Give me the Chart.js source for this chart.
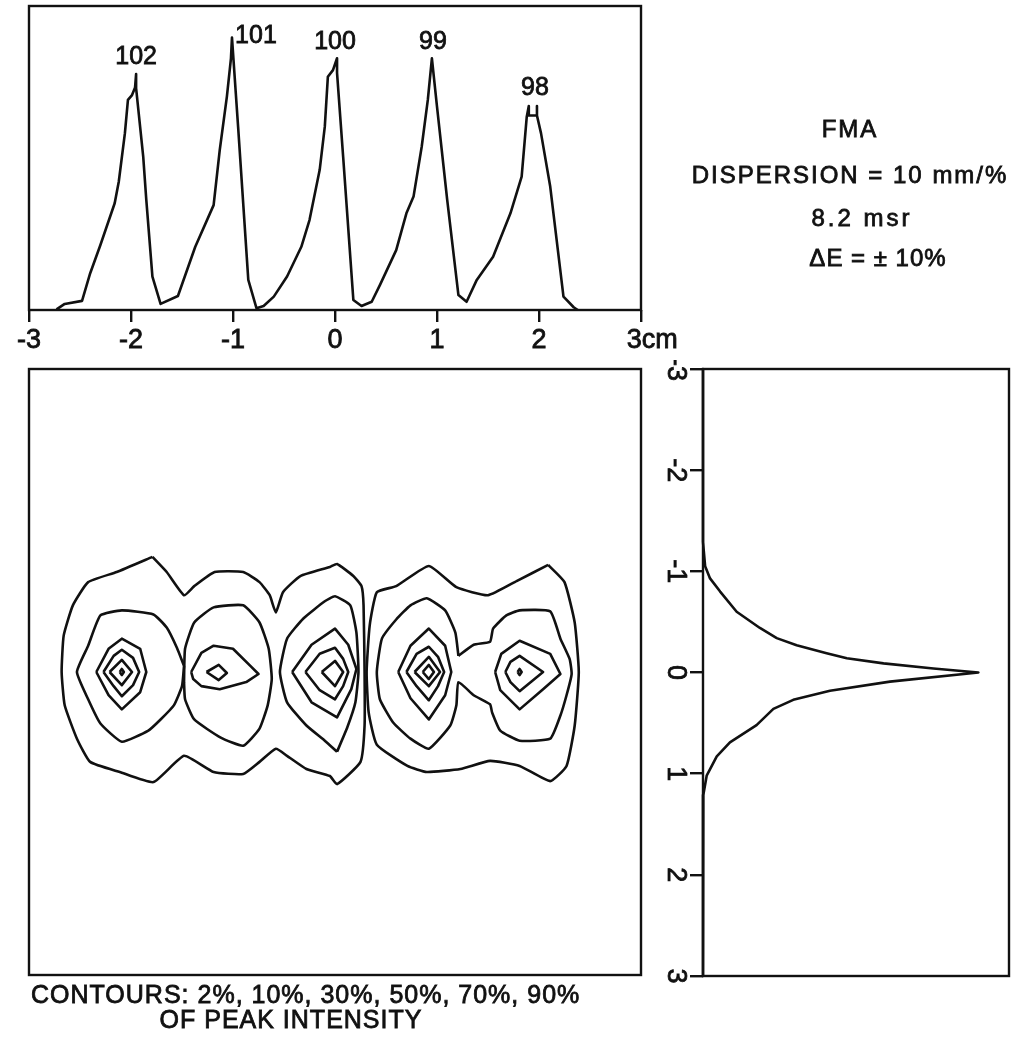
<!DOCTYPE html>
<html lang="en">
<head>
<meta charset="UTF-8">
<title>FMA dispersion contours</title>
<script src="https://cdn.jsdelivr.net/npm/chart.js"></script>
<style>
  body { margin: 0; background: #fff; }
  .wrap { position: relative; width: 1032px; height: 1046px; }
  canvas { position: absolute; }
  #top { left: 0; top: 0; }
  #contour { left: 0; top: 360px; }
  #side { left: 660px; top: 360px; }
</style>
</head>
<body>
<div class="wrap">
  <canvas id="top" width="1032" height="360"></canvas>
  <canvas id="contour" width="660" height="686"></canvas>
  <canvas id="side" width="372" height="640"></canvas>
</div>
<script>
// top profile: position (cm) vs intensity (% of box height)
const topX = [-2.73,-2.65,-2.48,-2.40,-2.30,-2.16,-2.12,-2.06,-2.03,-1.99,-1.96,-1.95,-1.95,-1.88,-1.85,-1.79,-1.71,-1.54,-1.37,-1.19,-1.13,-1.06,-1.02,-1.01,-0.95,-0.85,-0.77,-0.70,-0.60,-0.47,-0.33,-0.25,-0.15,-0.10,-0.07,-0.02,0.02,0.02,0.08,0.18,0.26,0.36,0.44,0.60,0.70,0.77,0.85,0.91,0.95,1.00,1.10,1.21,1.29,1.39,1.55,1.72,1.83,1.88,1.90,1.90,1.98,1.98,1.98,2.02,2.11,2.24,2.34,2.38];
const topI = [0.2,2.0,3.0,12.1,21.4,35.1,42.2,58.1,69.1,70.7,73.2,77.6,73.0,50.4,36.2,11.0,2.0,4.6,20.8,34.5,52.6,70.2,82.8,89.6,60.3,9.9,0.6,1.3,4.4,11.0,20.8,29.6,46.1,60.3,76.7,78.9,82.8,78.0,50.4,3.3,1.3,2.7,8.2,19.7,31.8,37.3,53.7,69.1,82.8,66.9,36.2,4.9,2.7,9.9,17.5,31.8,43.9,63.6,67.1,64.0,64.0,67.1,64.0,58.1,40.6,4.4,0.9,0];
const xTicks = [-3, -2, -1, 0, 1, 2, 3];

const peakNames = ['102', '101', '100', '99', '98'];
const peakCm = [-1.95, -1.01, 0.02, 0.95, 1.94];

// side profile: intensity vs vertical position (cm)
const sideY = [-3,-1.29,-1.05,-0.93,-0.80,-0.60,-0.44,-0.34,-0.27,-0.19,-0.14,-0.09,-0.04,0.00,0.09,0.18,0.27,0.36,0.52,0.69,0.83,1.02,1.21,3];
const sideI = [0,0,0.7,2.3,5.6,11.0,18.6,24.1,30.6,40.4,47.0,59.0,75.3,90.0,61.1,41.5,29.5,23.0,17.5,8.8,4.5,1.2,0.1,0];
const yTicks = [-3, -2, -1, 0, 1, 2, 3];

// contours [x cm, y cm]; 2% and 10% levels first
const c2A = [[-1.79,-1.14],[-1.65,-0.99],[-1.48,-0.76],[-1.38,-0.85],[-1.18,-0.99],[-0.90,-0.99],[-0.74,-0.89],[-0.64,-0.76],[-0.58,-0.59],[-0.51,-0.79],[-0.34,-0.95],[-0.05,-1.04],[0.02,-1.07],[0.18,-0.95],[0.26,-0.85],[0.28,-0.66],[0.29,0],[0.29,0.53],[0.25,0.89],[0.02,1.11],[-0.05,1.03],[-0.28,0.96],[-0.47,0.83],[-0.58,0.76],[-0.74,0.89],[-0.90,1.01],[-1.19,0.99],[-1.48,0.83],[-1.78,1.09],[-2.11,0.99],[-2.40,0.89],[-2.53,0.66],[-2.65,0.33],[-2.68,0],[-2.66,-0.36],[-2.57,-0.66],[-2.42,-0.89],[-2.14,-0.99]];
const c2B = [[2.09,-1.06],[2.25,-0.89],[2.35,-0.49],[2.39,0],[2.35,0.53],[2.27,0.93],[2.11,1.08],[1.81,0.93],[1.52,0.88],[1.23,0.96],[0.90,0.99],[0.71,0.93],[0.41,0.72],[0.33,0.40],[0.31,0],[0.34,-0.46],[0.41,-0.79],[0.60,-0.85],[0.92,-1.05],[1.19,-0.84],[1.50,-0.76],[1.78,-0.90]];
const c10_102 = [[-1.48,-0.06],[-1.50,0.14],[-1.58,0.33],[-1.71,0.47],[-1.83,0.58],[-2.09,0.69],[-2.30,0.51],[-2.42,0.27],[-2.53,0],[-2.42,-0.26],[-2.30,-0.56],[-2.09,-0.61],[-1.78,-0.57],[-1.65,-0.44],[-1.55,-0.24]];
const c10_101 = [[-1.48,0.10],[-1.47,-0.23],[-1.38,-0.49],[-1.19,-0.64],[-0.90,-0.66],[-0.74,-0.49],[-0.65,-0.23],[-0.62,0.07],[-0.66,0.33],[-0.74,0.56],[-0.90,0.73],[-1.12,0.65],[-1.38,0.47],[-1.47,0.27]];
const c10_100 = [[0.02,0.79],[-0.10,0.68],[-0.28,0.53],[-0.47,0.30],[-0.54,0],[-0.47,-0.33],[-0.31,-0.53],[-0.10,-0.70],[0.0,-0.75],[0.15,-0.66],[0.21,-0.39],[0.23,0],[0.20,0.30],[0.12,0.55]];
const c10_99_98 = [[1.21,-0.16],[1.36,-0.27],[1.52,-0.30],[1.55,-0.43],[1.68,-0.56],[1.81,-0.61],[2.11,-0.60],[2.21,-0.33],[2.30,-0.13],[2.32,0.02],[2.27,0.23],[2.21,0.43],[2.11,0.66],[1.81,0.68],[1.62,0.58],[1.54,0.40],[1.52,0.32],[1.36,0.23],[1.21,0.10],[1.19,0.33],[1.13,0.53],[0.92,0.76],[0.74,0.66],[0.57,0.50],[0.44,0.27],[0.41,0],[0.46,-0.33],[0.60,-0.52],[0.74,-0.66],[0.90,-0.73],[1.08,-0.61],[1.18,-0.39]];
const c30_102 = [[-2.34,0],[-2.22,-0.23],[-2.09,-0.33],[-1.91,-0.23],[-1.85,0],[-1.91,0.20],[-2.09,0.37],[-2.22,0.23]];
const c50_102 = [[-2.27,0],[-2.17,-0.16],[-2.09,-0.22],[-1.98,-0.14],[-1.92,0],[-1.98,0.13],[-2.09,0.24],[-2.17,0.14]];
const c70_102 = [[-2.21,0],[-2.09,-0.12],[-1.99,0],[-2.09,0.13]];
const c90_102 = [[-2.11,0],[-2.09,-0.03],[-2.07,0],[-2.09,0.03]];
const c30_101 = [[-1.41,0],[-1.31,-0.19],[-1.19,-0.26],[-1.00,-0.23],[-0.83,-0.06],[-0.75,0.02],[-0.87,0.10],[-1.13,0.17],[-1.31,0.14],[-1.39,0.07]];
const c50_101 = [[-1.26,0],[-1.14,-0.07],[-1.06,0.01],[-1.14,0.08]];
const c30_100 = [[-0.42,0],[-0.23,-0.27],[0.0,-0.43],[0.13,-0.27],[0.21,-0.03],[0.16,0.17],[0.02,0.45],[-0.23,0.30]];
const c50_100 = [[-0.29,0],[-0.15,-0.18],[0.0,-0.24],[0.08,-0.13],[0.13,0],[0.08,0.14],[0.0,0.27],[-0.15,0.18]];
const c70_100 = [[-0.13,0],[0.0,-0.11],[0.08,0],[0.0,0.14]];
const c30_99 = [[0.62,0],[0.74,-0.26],[0.92,-0.43],[1.08,-0.26],[1.14,0],[1.08,0.23],[0.92,0.47],[0.74,0.26]];
const c50_99 = [[0.70,0],[0.80,-0.18],[0.92,-0.25],[1.01,-0.15],[1.07,0],[1.01,0.14],[0.92,0.28],[0.80,0.14]];
const c70_99 = [[0.78,0],[0.92,-0.15],[1.03,0],[0.92,0.14]];
const c90_99 = [[0.86,0],[0.92,-0.07],[0.97,0],[0.92,0.07]];
const c30_98 = [[1.57,0],[1.63,-0.18],[1.81,-0.31],[2.11,-0.18],[2.21,0.02],[2.04,0.17],[1.81,0.37],[1.62,0.18]];
const c50_98 = [[1.67,0],[1.72,-0.10],[1.81,-0.16],[2.04,0],[1.81,0.19],[1.72,0.10]];
const c70_98 = [[1.79,0],[1.81,-0.03],[1.83,0],[1.81,0.03]];

const outerContours = [c2A, c2B, c10_102, c10_101, c10_100, c10_99_98];
const innerContours = [c30_102, c50_102, c70_102, c90_102, c30_101, c50_101,
  c30_100, c50_100, c70_100, c30_99, c50_99, c70_99, c90_99, c30_98, c50_98, c70_98];

const notes = ['FMA', 'DISPERSION = 10 mm/%', '8.2 msr', 'ΔE = ± 10%'];
const caption = ['CONTOURS: 2%, 10%, 30%, 50%, 70%, 90%', 'OF PEAK INTENSITY'];

const ink = '#111';
const fam = '"Liberation Sans", Arial, sans-serif';
Chart.defaults.font.family = fam;
Chart.defaults.color = ink;

const frame = {
  id: 'frame',
  afterDatasetsDraw(chart) {
    const a = chart.chartArea, ctx = chart.ctx;
    ctx.save();
    ctx.strokeStyle = ink;
    ctx.lineWidth = 2.4;
    ctx.strokeRect(a.left, a.top, a.right - a.left, a.bottom - a.top);
    ctx.restore();
  }
};

function lineSet(points, tension) {
  return { data: points, showLine: true, borderColor: ink, borderWidth: 2.6, pointRadius: 0,
           tension: tension || 0, clip: false, borderJoinStyle: 'round' };
}

function heavyText(ctx, text, x, y) {
  ctx.fillText(text, x, y);
  ctx.strokeText(text, x, y);
}

const baseOpts = {
  responsive: false,
  animation: false,
  events: [],
  plugins: { legend: { display: false }, tooltip: { enabled: false } }
};

// peak labels + notes on the top chart
const topText = {
  id: 'topText',
  afterDraw(chart) {
    const ctx = chart.ctx, sx = chart.scales.x, sy = chart.scales.y;
    const shift = [[0, -17], [24, -2], [-2, -16], [1, -16], [2, -18]];
    ctx.save();
    ctx.fillStyle = ink;
    ctx.strokeStyle = ink;
    ctx.lineWidth = 0.8;
    ctx.textAlign = 'center';
    ctx.textBaseline = 'middle';
    ctx.font = '25px ' + fam;
    peakNames.forEach((name, i) => {
      let top = 0;
      topX.forEach((x, j) => { if (Math.abs(x - peakCm[i]) < 0.1 && topI[j] > top) top = topI[j]; });
      heavyText(ctx, name, sx.getPixelForValue(peakCm[i]) + shift[i][0], sy.getPixelForValue(top) + shift[i][1]);
    });
    const pos = [[850, 130, 2], [850, 176, 2], [862, 219, 3], [878, 259, 1]];
    ctx.font = '24px ' + fam;
    notes.forEach((t, i) => {
      ctx.letterSpacing = pos[i][2] + 'px';
      heavyText(ctx, t, pos[i][0], pos[i][1]);
    });
    ctx.restore();
  }
};

new Chart(document.getElementById('top'), {
  type: 'scatter',
  data: { datasets: [lineSet(topX.map((x, i) => ({ x: x, y: topI[i] })))] },
  options: Object.assign({}, baseOpts, {
    layout: { padding: { left: 29, top: 6, right: 391, bottom: 0 } },
    scales: {
      x: {
        type: 'linear', min: -3, max: 3,
        afterFit: s => { s.height = 50; },
        afterBuildTicks: s => { s.ticks = xTicks.map(v => ({ value: v })); },
        ticks: { padding: 5, color: ink, maxRotation: 0, font: { size: 27, lineHeight: 1 },
                 textStrokeColor: ink, textStrokeWidth: 0.8,
                 callback: v => v === 3 ? '   3cm' : String(v) },
        grid: { drawOnChartArea: false, drawTicks: true, tickLength: 12, color: ink, lineWidth: 2.4 },
        border: { display: false }
      },
      y: { display: false, min: 0, max: 100 }
    }
  }),
  plugins: [frame, topText]
});

// contour map
const captionText = {
  id: 'captionText',
  afterDraw(chart) {
    const ctx = chart.ctx;
    ctx.save();
    ctx.fillStyle = ink;
    ctx.strokeStyle = ink;
    ctx.lineWidth = 0.8;
    ctx.textBaseline = 'middle';
    ctx.font = '25px ' + fam;
    ctx.letterSpacing = '1px';
    ctx.textAlign = 'left';
    heavyText(ctx, caption[0], 31, 636);
    ctx.textAlign = 'center';
    heavyText(ctx, caption[1], 291, 661);
    ctx.restore();
  }
};

const loop = c => c.concat([c[0]]).map(p => ({ x: p[0], y: p[1] }));

new Chart(document.getElementById('contour'), {
  type: 'scatter',
  data: { datasets: outerContours.map(c => lineSet(loop(c), 0.15)).concat(innerContours.map(c => lineSet(loop(c)))) },
  options: Object.assign({}, baseOpts, {
    layout: { padding: { left: 29, top: 9, right: 19, bottom: 71 } },
    scales: {
      x: { display: false, min: -3, max: 3 },
      y: { display: false, min: -3, max: 3, reverse: true }
    }
  }),
  plugins: [frame, captionText]
});

// side profile
const sideLabels = {
  id: 'sideLabels',
  afterDraw(chart) {
    const ctx = chart.ctx, sy = chart.scales.y;
    ctx.save();
    ctx.fillStyle = ink;
    ctx.strokeStyle = ink;
    ctx.lineWidth = 0.8;
    ctx.font = '27px ' + fam;
    ctx.textAlign = 'center';
    ctx.textBaseline = 'middle';
    yTicks.forEach(v => {
      ctx.save();
      ctx.translate(chart.chartArea.left - 28, sy.getPixelForValue(v));
      ctx.rotate(Math.PI / 2);
      heavyText(ctx, String(v), 0, 0);
      ctx.restore();
    });
    ctx.restore();
  }
};

new Chart(document.getElementById('side'), {
  type: 'scatter',
  data: { datasets: [lineSet(sideY.map((y, i) => ({ x: sideI[i], y: y })))] },
  options: Object.assign({}, baseOpts, {
    layout: { padding: { left: 0, top: 9, right: 23, bottom: 24 } },
    scales: {
      x: { display: false, min: 0, max: 100 },
      y: {
        min: -3, max: 3, reverse: true,
        afterFit: s => { s.width = 43; },
        afterBuildTicks: s => { s.ticks = yTicks.map(v => ({ value: v })); },
        ticks: { display: false },
        grid: { drawOnChartArea: false, drawTicks: true, tickLength: 13, color: ink, lineWidth: 2.4 },
        border: { display: false }
      }
    }
  }),
  plugins: [frame, sideLabels]
});
</script>
</body>
</html>
